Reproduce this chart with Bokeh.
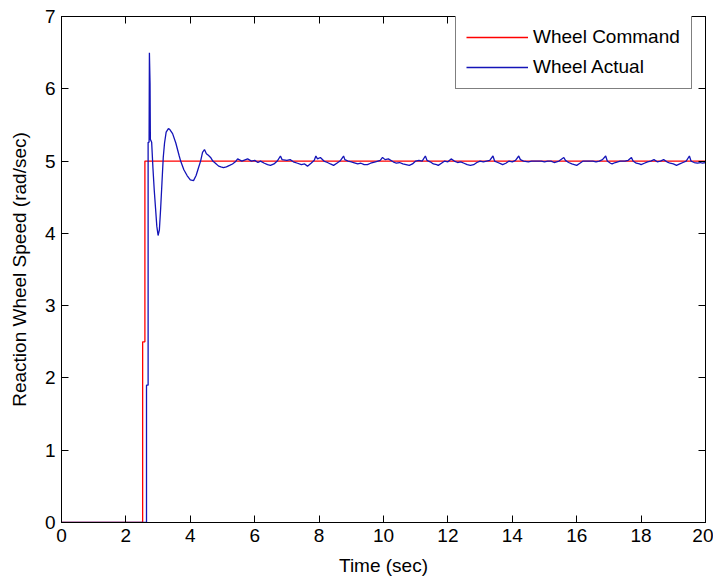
from bokeh.plotting import figure
from bokeh.models import LinearAxis, FixedTicker, Range1d, Legend, LegendItem
from bokeh.embed import file_html
from bokeh.resources import INLINE

# Wheel command (step)
command_t = [0.0, 2.52, 2.52, 2.59, 2.59, 20.0]
command_v = [0.0, 0.0, 2.5, 2.5, 5.0, 5.0]

# Wheel actual
actual_t = [0.0, 2.64, 2.64, 2.69, 2.69, 2.72, 2.73, 2.75, 2.76, 2.80, 2.84, 2.88, 2.92, 2.96,
            3.00, 3.04, 3.08, 3.12, 3.16, 3.20, 3.25, 3.32, 3.36, 3.45, 3.55, 3.65, 3.70, 3.80,
            3.90, 4.00, 4.10, 4.18, 4.25, 4.32, 4.38, 4.44, 4.50, 4.56, 4.63, 4.70, 4.78, 4.88,
            4.95, 5.03, 5.12, 5.22, 5.31, 5.40, 5.47, 5.60, 5.78, 5.90, 6.00, 6.10, 6.18, 6.30,
            6.40, 6.49, 6.60, 6.70, 6.80, 6.85, 7.00, 7.10, 7.20, 7.33, 7.45, 7.55, 7.64, 7.75,
            7.85, 7.90, 7.95, 8.04, 8.15, 8.26, 8.35, 8.45, 8.55, 8.65, 8.76, 8.80, 8.90, 9.00,
            9.07, 9.20, 9.30, 9.40, 9.50, 9.60, 9.75, 9.90, 9.97, 10.05, 10.15, 10.30, 10.40,
            10.50, 10.60, 10.70, 10.80, 10.90, 11.00, 11.10, 11.20, 11.30, 11.35, 11.45, 11.55,
            11.65, 11.70, 11.80, 11.90, 12.00, 12.10, 12.20, 12.30, 12.40, 12.50, 12.60, 12.70,
            12.80, 12.90, 13.00, 13.10, 13.20, 13.30, 13.40, 13.45, 13.55, 13.65, 13.70, 13.80,
            13.90, 14.00, 14.10, 14.20, 14.25, 14.35, 14.50, 14.60, 14.75, 14.90, 15.00, 15.10,
            15.20, 15.30, 15.45, 15.60, 15.65, 15.75, 15.85, 16.00, 16.10, 16.20, 16.35, 16.50,
            16.60, 16.70, 16.80, 16.90, 16.95, 17.05, 17.10, 17.20, 17.35, 17.50, 17.60, 17.70,
            17.75, 17.85, 17.95, 18.00, 18.10, 18.20, 18.30, 18.40, 18.50, 18.60, 18.70, 18.80,
            18.90, 19.00, 19.10, 19.20, 19.30, 19.40, 19.50, 19.55, 19.65, 19.75, 19.85, 19.90,
            20.00]
actual_v = [0.0, 0.0, 1.9, 1.9, 5.26, 5.26, 6.5, 6.07, 5.3, 5.26, 4.9, 4.6, 4.35, 4.1,
            3.97, 4.05, 4.35, 4.7, 5.05, 5.25, 5.40, 5.45, 5.44, 5.38, 5.25, 5.08, 5.0, 4.88,
            4.80, 4.74, 4.73, 4.80, 4.90, 5.0, 5.12, 5.16, 5.10, 5.08, 5.05, 5.0, 4.97, 4.93,
            4.92, 4.91, 4.92, 4.94, 4.96, 4.99, 5.03, 5.0, 5.03, 5.0, 5.01, 4.98, 5.0, 4.97,
            4.95, 4.94, 4.96, 5.0, 5.07, 5.02, 5.01, 5.02, 4.99, 4.97, 4.95, 4.96, 4.93, 4.97,
            5.01, 5.07, 5.03, 5.05, 5.0, 4.98, 4.96, 4.94, 4.97, 5.0, 5.07, 5.02, 5.0, 4.99,
            4.98, 4.96, 4.97, 4.95, 4.95, 4.97, 4.99, 5.01, 5.05, 5.02, 5.03, 4.99, 4.97,
            4.98, 4.96, 4.95, 4.94, 4.96, 5.0, 5.01, 5.0, 5.07, 5.01, 4.99, 4.96,
            4.95, 4.94, 4.97, 5.0, 4.99, 5.03, 5.0, 4.98, 4.99, 4.97, 4.95, 4.94,
            4.95, 4.98, 5.0, 4.99, 5.0, 5.01, 5.07, 5.0, 4.98, 4.96, 4.95, 4.97,
            5.0, 4.99, 5.01, 5.07, 5.02, 5.0, 4.99, 5.0, 5.0, 5.0, 4.99, 5.0,
            5.0, 4.98, 5.0, 5.05, 5.01, 4.98, 4.96, 4.94, 4.97, 5.0, 5.0, 5.0,
            4.99, 5.0, 5.02, 5.07, 5.0, 4.97, 4.96, 4.98, 5.0, 5.0, 5.01, 5.05,
            5.0, 4.97, 4.96, 4.95, 4.97, 4.99, 5.0, 5.02, 4.99, 5.0, 5.02, 4.99,
            4.97, 4.96, 4.94, 4.96, 4.98, 5.0, 5.07, 5.0, 4.98, 4.97, 4.98, 4.97,
            4.98]

x_ticks = [0, 2, 4, 6, 8, 10, 12, 14, 16, 18, 20]
y_ticks = [0, 1, 2, 3, 4, 5, 6, 7]

FONT = "Liberation Sans"
FS = "19px"

p = figure(width=713, height=578, output_backend="svg", toolbar_location=None,
           x_range=Range1d(0, 20), y_range=Range1d(0, 7),
           min_border_left=61, min_border_right=8, min_border_top=16, min_border_bottom=56)
p.grid.visible = False
p.outline_line_color = "black"
p.outline_line_width = 1
p.background_fill_color = "white"
p.border_fill_color = "white"

r_cmd = p.line(command_t, command_v, line_color="#ff0000", line_width=1.3)
r_act = p.line(actual_t, actual_v, line_color="#1414b8", line_width=1.3)

for ax, ticks in ((p.xaxis[0], x_ticks), (p.yaxis[0], y_ticks)):
    ax.ticker = FixedTicker(ticks=ticks)
    ax.major_tick_in = 7
    ax.major_tick_out = 0
    ax.minor_tick_line_color = None
    ax.axis_line_color = "black"
    ax.major_tick_line_color = "black"
    ax.major_label_text_font = FONT
    ax.major_label_text_font_size = FS
    ax.major_label_text_color = "black"
    ax.axis_label_text_font = FONT
    ax.axis_label_text_font_size = FS
    ax.axis_label_text_font_style = "normal"
    ax.axis_label_text_color = "black"
    ax.major_label_standoff = 6

p.xaxis[0].axis_label = "Time (sec)"
p.xaxis[0].axis_label_standoff = 10
p.yaxis[0].axis_label = "Reaction Wheel Speed (rad/sec)"
p.yaxis[0].axis_label_standoff = 12

top_ax = LinearAxis(ticker=FixedTicker(ticks=x_ticks),
                    major_label_overrides={t: "" for t in x_ticks})
right_ax = LinearAxis(ticker=FixedTicker(ticks=y_ticks),
                      major_label_overrides={t: "" for t in y_ticks})
for ax in (top_ax, right_ax):
    ax.major_tick_in = 7
    ax.major_tick_out = 0
    ax.minor_tick_line_color = None
    ax.axis_line_color = "black"
    ax.major_label_standoff = 0
    ax.major_label_text_font_size = "1px"
p.add_layout(top_ax, "above")
p.add_layout(right_ax, "right")

legend = Legend(items=[LegendItem(label="Wheel Command", renderers=[r_cmd]),
                       LegendItem(label="Wheel Actual", renderers=[r_act])],
                location=(394, 433))
legend.label_text_font = FONT
legend.label_text_font_size = FS
legend.label_text_color = "black"
legend.glyph_width = 62
legend.glyph_height = 20
legend.label_height = 20
legend.label_width = 148
legend.label_standoff = 5
legend.padding = 10
legend.spacing = 8
legend.margin = 0
legend.border_line_color = "black"
legend.border_line_width = 1
legend.background_fill_color = "white"
legend.background_fill_alpha = 1
p.add_layout(legend, "center")

open("out.html", "w").write(file_html(p, INLINE))
